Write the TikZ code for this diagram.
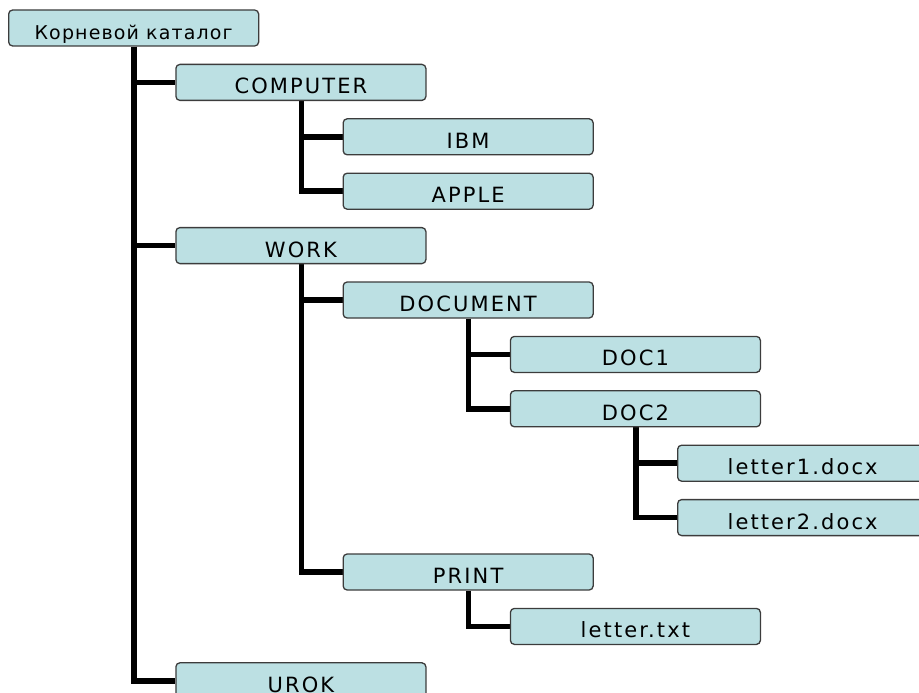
\documentclass[tikz,border=0pt]{standalone}
\usepackage{fontspec}
\newfontfamily\boxfont{DejaVu Sans}[LetterSpace=10]
\newfontfamily\rootfont{DejaVu Sans}[LetterSpace=6]
\usetikzlibrary{calc,backgrounds}
\definecolor{boxfill}{RGB}{188,224,227}
\definecolor{boxline}{RGB}{60,60,60}
\tikzset{
  fbox/.style={draw=boxline, fill=boxfill, line width=1.3pt, rounded corners=4pt,
    minimum width=250pt, minimum height=36pt, inner sep=0pt, anchor=west,
    font=\boxfont\fontsize{21}{24}\selectfont, text height=15pt, text depth=0pt},
  rootbox/.style={fbox, font=\rootfont\fontsize{19}{22}\selectfont},
  conn/.style={line width=5.5pt, black}
}
\newcommand{\lowtxt}[1]{\raisebox{-4pt}{#1}}
\begin{document}
\begin{tikzpicture}[x=1pt,y=-1pt]
\useasboundingbox (0,0) rectangle (919,693);
\clip (0,0) rectangle (919,693);
\node[rootbox] (root) at (8,28) {\lowtxt{Корневой каталог}};
\node[fbox] (comp) at (175.25,82.4) {\lowtxt{COMPUTER}};
\node[fbox] (ibm) at (342.5,136.8) {\lowtxt{IBM}};
\node[fbox] (apple) at (342.5,191.2) {\lowtxt{APPLE}};
\node[fbox] (work) at (175.25,245.6) {\lowtxt{WORK}};
\node[fbox] (document) at (342.5,300) {\lowtxt{DOCUMENT}};
\node[fbox] (doca) at (509.75,354.4) {\lowtxt{DOC1}};
\node[fbox] (docb) at (509.75,408.8) {\lowtxt{DOC2}};
\node[fbox] (lettera) at (677,463.2) {\lowtxt{letter1.docx}};
\node[fbox] (letterb) at (677,517.6) {\lowtxt{letter2.docx}};
\node[fbox] (print) at (342.5,572) {\lowtxt{PRINT}};
\node[fbox] (lettertxt) at (509.75,626.4) {\lowtxt{letter.txt}};
\node[fbox] (urok) at (175.25,680.8) {\lowtxt{UROK}};
\begin{scope}[on background layer]
\foreach \p/\c in {root/comp, root/work, root/urok, comp/ibm, comp/apple,
  work/document, work/print, document/doca, document/docb,
  docb/lettera, docb/letterb, print/lettertxt}{
  \draw[conn] ($(\p.south west)+(126,0)$) |- (\c.west);
}
\end{scope}
\end{tikzpicture}
\end{document}
